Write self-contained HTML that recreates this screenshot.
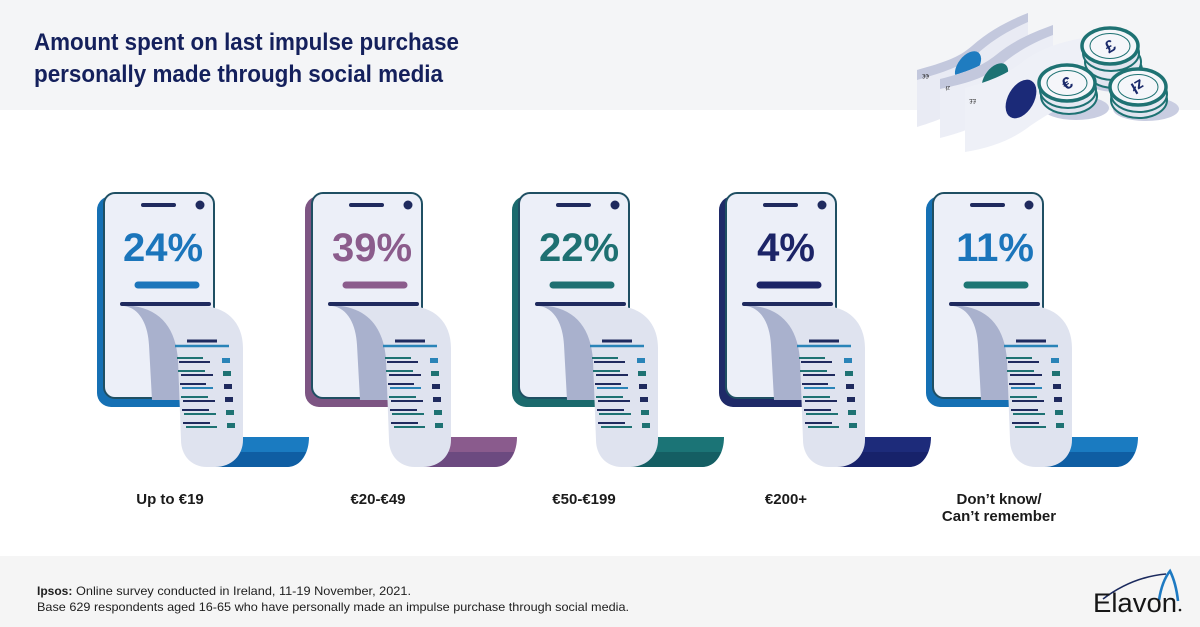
<!DOCTYPE html>
<html>
<head>
<meta charset="utf-8">
<style>
html,body{margin:0;padding:0;background:#fff;}
svg{display:block;}
</style>
</head>
<body>
<svg width="1200" height="627" viewBox="0 0 1200 627" xmlns="http://www.w3.org/2000/svg" font-family="'Liberation Sans', Arial, sans-serif">
  <!-- backgrounds -->
  <rect x="0" y="0" width="1200" height="627" fill="#ffffff"/>
  <rect x="0" y="0" width="1200" height="110" fill="#f4f5f7"/>
  <rect x="0" y="556" width="1200" height="71" fill="#f5f5f5"/>

  <!-- title -->
  <text x="34" y="50" font-size="24" font-weight="bold" fill="#14205c" textLength="425" lengthAdjust="spacingAndGlyphs">Amount spent on last impulse purchase</text>
  <text x="34" y="82" font-size="24" font-weight="bold" fill="#14205c" textLength="409" lengthAdjust="spacingAndGlyphs">personally made through social media</text>

  <!-- money illustration -->
  <g>
    <!-- shadows -->
    <ellipse cx="1117" cy="80" rx="32" ry="12" fill="#c9cde1"/>
    <ellipse cx="1076" cy="108" rx="33" ry="12" fill="#c9cde1"/>
    <ellipse cx="1146" cy="109" rx="33" ry="12" fill="#c9cde1"/>
    <!-- bill 1 -->
    <path d="M917,70 C945,62 958,58 972,46 C990,30 1010,20 1028,13 L1028,68 C1010,75 992,86 975,100 C960,112 940,120 917,127 Z" fill="#e9ebf4"/>
    <path d="M917,70 C945,62 958,58 972,46 C990,30 1010,20 1028,13 L1028,22 C1010,30 992,40 976,55 C962,66 945,72 917,80 Z" fill="#c3c8dd"/>
    <ellipse cx="968" cy="66" rx="10" ry="17" transform="rotate(38 968 66)" fill="#1f7cc0"/>
    <text x="921" y="78" font-size="6" fill="#333" transform="rotate(180 925 76)">€€</text>
    <!-- bill 2 -->
    <path d="M940,79 C968,72 982,66 996,55 C1014,40 1034,32 1053,25 L1053,82 C1034,88 1016,98 1000,111 C985,124 964,132 940,138 Z" fill="#eceef6"/>
    <path d="M940,79 C968,72 982,66 996,55 C1014,40 1034,32 1053,25 L1053,35 C1034,42 1016,52 1000,66 C986,78 964,84 940,89 Z" fill="#c3c8dd"/>
    <ellipse cx="995" cy="78" rx="10" ry="17" transform="rotate(38 995 78)" fill="#1c7273"/>
    <text x="944" y="90" font-size="6" fill="#333" transform="rotate(180 947 88)">zł</text>
    <!-- bill 3 -->
    <path d="M965,88 C995,80 1010,72 1025,60 C1045,46 1068,40 1090,37 L1090,98 C1070,102 1050,112 1030,126 C1012,140 990,148 965,152 Z" fill="#eef0f7"/>
    <ellipse cx="1021" cy="99" rx="13" ry="21" transform="rotate(30 1021 99)" fill="#1b2a78"/>
    <text x="970" y="103" font-size="6" fill="#333" transform="rotate(180 973 101)">££</text>

    <!-- pound stack -->
    <ellipse cx="1114" cy="70" rx="28" ry="18" fill="#e1e4ef" stroke="#1e7273" stroke-width="2"/>
    <ellipse cx="1113" cy="62" rx="28" ry="18" fill="#e6e9f2" stroke="#1e7273" stroke-width="2"/>
    <ellipse cx="1111" cy="53" rx="28" ry="18" fill="#e1e4ef" stroke="#1e7273" stroke-width="2"/>
    <ellipse cx="1110" cy="46" rx="28" ry="18" fill="#f5f6fa" stroke="#1e7273" stroke-width="3.5"/>
    <ellipse cx="1110" cy="46" rx="20" ry="12.5" fill="none" stroke="#1e7273" stroke-width="1"/>
    <text x="1110" y="52" font-size="17" font-weight="bold" fill="#1b2a6b" text-anchor="middle" transform="rotate(-30 1110 46)">£</text>

    <!-- euro stack -->
    <ellipse cx="1069" cy="96" rx="28" ry="18" fill="#e1e4ef" stroke="#1e7273" stroke-width="2"/>
    <ellipse cx="1068" cy="90" rx="28" ry="18" fill="#e6e9f2" stroke="#1e7273" stroke-width="2"/>
    <ellipse cx="1067" cy="83" rx="28" ry="18" fill="#f5f6fa" stroke="#1e7273" stroke-width="3.5"/>
    <ellipse cx="1067" cy="83" rx="20" ry="12.5" fill="none" stroke="#1e7273" stroke-width="1"/>
    <text x="1067" y="89" font-size="17" font-weight="bold" fill="#1b2a6b" text-anchor="middle" transform="rotate(-30 1067 83)">€</text>

    <!-- zloty stack -->
    <ellipse cx="1139" cy="100" rx="28" ry="18" fill="#e1e4ef" stroke="#1e7273" stroke-width="2"/>
    <ellipse cx="1139" cy="94" rx="28" ry="18" fill="#e6e9f2" stroke="#1e7273" stroke-width="2"/>
    <ellipse cx="1138" cy="87" rx="28" ry="18" fill="#f5f6fa" stroke="#1e7273" stroke-width="3.5"/>
    <ellipse cx="1138" cy="87" rx="20" ry="12.5" fill="none" stroke="#1e7273" stroke-width="1"/>
    <text x="1138" y="93" font-size="16" font-weight="bold" fill="#1b2a6b" text-anchor="middle" transform="rotate(150 1138 87)">zł</text>
  </g>

  <!-- PHONE 1 -->
  <g transform="translate(0,0)">
    <path d="M232,437 L309,437 C309,452 302,467 286,467 L212,467 Z" fill="#1a7bc1"/>
    <path d="M236,452 L306,452 C302,462 296,467 286,467 L214,467 Z" fill="#0f5ea3"/>
    <rect x="97" y="196" width="114" height="211" rx="14" fill="#1570b4"/>
    <rect x="104" y="193" width="110" height="205" rx="11" fill="#eceff8" stroke="#1f4f63" stroke-width="2"/>
    <line x1="143" y1="205" x2="174" y2="205" stroke="#1f2a5e" stroke-width="4" stroke-linecap="round"/>
    <circle cx="200" cy="205" r="4.5" fill="#1f2a5e"/>
    <text x="163" y="261" font-size="40" font-weight="bold" fill="#1b75bb" text-anchor="middle">24%</text>
    <line x1="138" y1="285" x2="196" y2="285" stroke="#1b75bb" stroke-width="7" stroke-linecap="round"/>
    <line x1="122" y1="304" x2="209" y2="304" stroke="#1f2a5e" stroke-width="4" stroke-linecap="round"/>
    <path d="M124,306 C140,308 148,325 149,345 L152,400 L185,400 L185,306 Z" fill="#a9b1cd"/>
    <path d="M133,306 L200,306 C226,306 243,322 243,348 L243,440 C243,455 232,467 215,467 L207,467 C191,467 181,455 181,440 L178,360 C176,330 162,310 133,306 Z" fill="#dfe3ef"/>
    <g stroke-linecap="butt">
      <line x1="187" y1="341" x2="217" y2="341" stroke="#1f2a5e" stroke-width="3"/>
      <line x1="175" y1="346" x2="229" y2="346" stroke="#2a84b8" stroke-width="2.5"/>
      <line x1="177" y1="358" x2="203" y2="358" stroke="#1e7273" stroke-width="2"/>
      <line x1="179" y1="362" x2="210" y2="362" stroke="#1f2a5e" stroke-width="2"/>
      <rect x="222" y="358" width="8" height="5" fill="#2a84b8"/>
      <line x1="178" y1="371" x2="205" y2="371" stroke="#1e7273" stroke-width="2"/>
      <line x1="181" y1="375" x2="213" y2="375" stroke="#1f2a5e" stroke-width="2"/>
      <rect x="223" y="371" width="8" height="5" fill="#1e7273"/>
      <line x1="180" y1="384" x2="206" y2="384" stroke="#1f2a5e" stroke-width="2"/>
      <line x1="182" y1="388" x2="213" y2="388" stroke="#2a84b8" stroke-width="2"/>
      <rect x="224" y="384" width="8" height="5" fill="#1f2a5e"/>
      <line x1="181" y1="397" x2="208" y2="397" stroke="#1e7273" stroke-width="2"/>
      <line x1="183" y1="401" x2="215" y2="401" stroke="#1f2a5e" stroke-width="2"/>
      <rect x="225" y="397" width="8" height="5" fill="#1f2a5e"/>
      <line x1="182" y1="410" x2="209" y2="410" stroke="#1f2a5e" stroke-width="2"/>
      <line x1="184" y1="414" x2="216" y2="414" stroke="#1e7273" stroke-width="2"/>
      <rect x="226" y="410" width="8" height="5" fill="#1e7273"/>
      <line x1="183" y1="423" x2="210" y2="423" stroke="#1f2a5e" stroke-width="2"/>
      <line x1="186" y1="427" x2="217" y2="427" stroke="#1e7273" stroke-width="2"/>
      <rect x="227" y="423" width="8" height="5" fill="#1e7273"/>
    </g>
  </g>

  <!-- PHONE 2 -->
  <g transform="translate(208,0)">
    <path d="M232,437 L309,437 C309,452 302,467 286,467 L212,467 Z" fill="#8a5b8d"/>
    <path d="M236,452 L306,452 C302,462 296,467 286,467 L214,467 Z" fill="#6c4a80"/>
    <rect x="97" y="196" width="114" height="211" rx="14" fill="#7d5583"/>
    <rect x="104" y="193" width="110" height="205" rx="11" fill="#eceff8" stroke="#1f4f63" stroke-width="2"/>
    <line x1="143" y1="205" x2="174" y2="205" stroke="#1f2a5e" stroke-width="4" stroke-linecap="round"/>
    <circle cx="200" cy="205" r="4.5" fill="#1f2a5e"/>
    <text x="164" y="261" font-size="40" font-weight="bold" fill="#8b5c8c" text-anchor="middle">39%</text>
    <line x1="138" y1="285" x2="196" y2="285" stroke="#8b5c8c" stroke-width="7" stroke-linecap="round"/>
    <line x1="122" y1="304" x2="209" y2="304" stroke="#1f2a5e" stroke-width="4" stroke-linecap="round"/>
    <path d="M124,306 C140,308 148,325 149,345 L152,400 L185,400 L185,306 Z" fill="#a9b1cd"/>
    <path d="M133,306 L200,306 C226,306 243,322 243,348 L243,440 C243,455 232,467 215,467 L207,467 C191,467 181,455 181,440 L178,360 C176,330 162,310 133,306 Z" fill="#dfe3ef"/>
    <g>
      <line x1="187" y1="341" x2="217" y2="341" stroke="#1f2a5e" stroke-width="3"/>
      <line x1="175" y1="346" x2="229" y2="346" stroke="#2a84b8" stroke-width="2.5"/>
      <line x1="177" y1="358" x2="203" y2="358" stroke="#1e7273" stroke-width="2"/>
      <line x1="179" y1="362" x2="210" y2="362" stroke="#1f2a5e" stroke-width="2"/>
      <rect x="222" y="358" width="8" height="5" fill="#2a84b8"/>
      <line x1="178" y1="371" x2="205" y2="371" stroke="#1e7273" stroke-width="2"/>
      <line x1="181" y1="375" x2="213" y2="375" stroke="#1f2a5e" stroke-width="2"/>
      <rect x="223" y="371" width="8" height="5" fill="#1e7273"/>
      <line x1="180" y1="384" x2="206" y2="384" stroke="#1f2a5e" stroke-width="2"/>
      <line x1="182" y1="388" x2="213" y2="388" stroke="#2a84b8" stroke-width="2"/>
      <rect x="224" y="384" width="8" height="5" fill="#1f2a5e"/>
      <line x1="181" y1="397" x2="208" y2="397" stroke="#1e7273" stroke-width="2"/>
      <line x1="183" y1="401" x2="215" y2="401" stroke="#1f2a5e" stroke-width="2"/>
      <rect x="225" y="397" width="8" height="5" fill="#1f2a5e"/>
      <line x1="182" y1="410" x2="209" y2="410" stroke="#1f2a5e" stroke-width="2"/>
      <line x1="184" y1="414" x2="216" y2="414" stroke="#1e7273" stroke-width="2"/>
      <rect x="226" y="410" width="8" height="5" fill="#1e7273"/>
      <line x1="183" y1="423" x2="210" y2="423" stroke="#1f2a5e" stroke-width="2"/>
      <line x1="186" y1="427" x2="217" y2="427" stroke="#1e7273" stroke-width="2"/>
      <rect x="227" y="423" width="8" height="5" fill="#1e7273"/>
    </g>
  </g>

  <!-- PHONE 3 -->
  <g transform="translate(415,0)">
    <path d="M232,437 L309,437 C309,452 302,467 286,467 L212,467 Z" fill="#1b7476"/>
    <path d="M236,452 L306,452 C302,462 296,467 286,467 L214,467 Z" fill="#145e63"/>
    <rect x="97" y="196" width="114" height="211" rx="14" fill="#1b6a6d"/>
    <rect x="104" y="193" width="110" height="205" rx="11" fill="#eceff8" stroke="#1f4f63" stroke-width="2"/>
    <line x1="143" y1="205" x2="174" y2="205" stroke="#1f2a5e" stroke-width="4" stroke-linecap="round"/>
    <circle cx="200" cy="205" r="4.5" fill="#1f2a5e"/>
    <text x="164" y="261" font-size="40" font-weight="bold" fill="#1e7072" text-anchor="middle">22%</text>
    <line x1="138" y1="285" x2="196" y2="285" stroke="#1e7072" stroke-width="7" stroke-linecap="round"/>
    <line x1="122" y1="304" x2="209" y2="304" stroke="#1f2a5e" stroke-width="4" stroke-linecap="round"/>
    <path d="M124,306 C140,308 148,325 149,345 L152,400 L185,400 L185,306 Z" fill="#a9b1cd"/>
    <path d="M133,306 L200,306 C226,306 243,322 243,348 L243,440 C243,455 232,467 215,467 L207,467 C191,467 181,455 181,440 L178,360 C176,330 162,310 133,306 Z" fill="#dfe3ef"/>
    <g>
      <line x1="187" y1="341" x2="217" y2="341" stroke="#1f2a5e" stroke-width="3"/>
      <line x1="175" y1="346" x2="229" y2="346" stroke="#2a84b8" stroke-width="2.5"/>
      <line x1="177" y1="358" x2="203" y2="358" stroke="#1e7273" stroke-width="2"/>
      <line x1="179" y1="362" x2="210" y2="362" stroke="#1f2a5e" stroke-width="2"/>
      <rect x="222" y="358" width="8" height="5" fill="#2a84b8"/>
      <line x1="178" y1="371" x2="205" y2="371" stroke="#1e7273" stroke-width="2"/>
      <line x1="181" y1="375" x2="213" y2="375" stroke="#1f2a5e" stroke-width="2"/>
      <rect x="223" y="371" width="8" height="5" fill="#1e7273"/>
      <line x1="180" y1="384" x2="206" y2="384" stroke="#1f2a5e" stroke-width="2"/>
      <line x1="182" y1="388" x2="213" y2="388" stroke="#2a84b8" stroke-width="2"/>
      <rect x="224" y="384" width="8" height="5" fill="#1f2a5e"/>
      <line x1="181" y1="397" x2="208" y2="397" stroke="#1e7273" stroke-width="2"/>
      <line x1="183" y1="401" x2="215" y2="401" stroke="#1f2a5e" stroke-width="2"/>
      <rect x="225" y="397" width="8" height="5" fill="#1f2a5e"/>
      <line x1="182" y1="410" x2="209" y2="410" stroke="#1f2a5e" stroke-width="2"/>
      <line x1="184" y1="414" x2="216" y2="414" stroke="#1e7273" stroke-width="2"/>
      <rect x="226" y="410" width="8" height="5" fill="#1e7273"/>
      <line x1="183" y1="423" x2="210" y2="423" stroke="#1f2a5e" stroke-width="2"/>
      <line x1="186" y1="427" x2="217" y2="427" stroke="#1e7273" stroke-width="2"/>
      <rect x="227" y="423" width="8" height="5" fill="#1e7273"/>
    </g>
  </g>

  <!-- PHONE 4 -->
  <g transform="translate(622,0)">
    <path d="M232,437 L309,437 C309,452 302,467 286,467 L212,467 Z" fill="#1d2b7a"/>
    <path d="M236,452 L306,452 C302,462 296,467 286,467 L214,467 Z" fill="#17226a"/>
    <rect x="97" y="196" width="114" height="211" rx="14" fill="#1f2a68"/>
    <rect x="104" y="193" width="110" height="205" rx="11" fill="#eceff8" stroke="#1f4f63" stroke-width="2"/>
    <line x1="143" y1="205" x2="174" y2="205" stroke="#1f2a5e" stroke-width="4" stroke-linecap="round"/>
    <circle cx="200" cy="205" r="4.5" fill="#1f2a5e"/>
    <text x="164" y="261" font-size="40" font-weight="bold" fill="#1c2467" text-anchor="middle">4%</text>
    <line x1="138" y1="285" x2="196" y2="285" stroke="#1c2467" stroke-width="7" stroke-linecap="round"/>
    <line x1="122" y1="304" x2="209" y2="304" stroke="#1f2a5e" stroke-width="4" stroke-linecap="round"/>
    <path d="M124,306 C140,308 148,325 149,345 L152,400 L185,400 L185,306 Z" fill="#a9b1cd"/>
    <path d="M133,306 L200,306 C226,306 243,322 243,348 L243,440 C243,455 232,467 215,467 L207,467 C191,467 181,455 181,440 L178,360 C176,330 162,310 133,306 Z" fill="#dfe3ef"/>
    <g>
      <line x1="187" y1="341" x2="217" y2="341" stroke="#1f2a5e" stroke-width="3"/>
      <line x1="175" y1="346" x2="229" y2="346" stroke="#2a84b8" stroke-width="2.5"/>
      <line x1="177" y1="358" x2="203" y2="358" stroke="#1e7273" stroke-width="2"/>
      <line x1="179" y1="362" x2="210" y2="362" stroke="#1f2a5e" stroke-width="2"/>
      <rect x="222" y="358" width="8" height="5" fill="#2a84b8"/>
      <line x1="178" y1="371" x2="205" y2="371" stroke="#1e7273" stroke-width="2"/>
      <line x1="181" y1="375" x2="213" y2="375" stroke="#1f2a5e" stroke-width="2"/>
      <rect x="223" y="371" width="8" height="5" fill="#1e7273"/>
      <line x1="180" y1="384" x2="206" y2="384" stroke="#1f2a5e" stroke-width="2"/>
      <line x1="182" y1="388" x2="213" y2="388" stroke="#2a84b8" stroke-width="2"/>
      <rect x="224" y="384" width="8" height="5" fill="#1f2a5e"/>
      <line x1="181" y1="397" x2="208" y2="397" stroke="#1e7273" stroke-width="2"/>
      <line x1="183" y1="401" x2="215" y2="401" stroke="#1f2a5e" stroke-width="2"/>
      <rect x="225" y="397" width="8" height="5" fill="#1f2a5e"/>
      <line x1="182" y1="410" x2="209" y2="410" stroke="#1f2a5e" stroke-width="2"/>
      <line x1="184" y1="414" x2="216" y2="414" stroke="#1e7273" stroke-width="2"/>
      <rect x="226" y="410" width="8" height="5" fill="#1e7273"/>
      <line x1="183" y1="423" x2="210" y2="423" stroke="#1f2a5e" stroke-width="2"/>
      <line x1="186" y1="427" x2="217" y2="427" stroke="#1e7273" stroke-width="2"/>
      <rect x="227" y="423" width="8" height="5" fill="#1e7273"/>
    </g>
  </g>

  <!-- PHONE 5 -->
  <g transform="translate(829,0)">
    <path d="M232,437 L309,437 C309,452 302,467 286,467 L212,467 Z" fill="#1a7bc1"/>
    <path d="M236,452 L306,452 C302,462 296,467 286,467 L214,467 Z" fill="#0f5ea3"/>
    <rect x="97" y="196" width="114" height="211" rx="14" fill="#1570b4"/>
    <rect x="104" y="193" width="110" height="205" rx="11" fill="#eceff8" stroke="#1f4f63" stroke-width="2"/>
    <line x1="143" y1="205" x2="174" y2="205" stroke="#1f2a5e" stroke-width="4" stroke-linecap="round"/>
    <circle cx="200" cy="205" r="4.5" fill="#1f2a5e"/>
    <text x="166" y="261" font-size="40" font-weight="bold" fill="#1b75bb" text-anchor="middle">11%</text>
    <line x1="138" y1="285" x2="196" y2="285" stroke="#1d7674" stroke-width="7" stroke-linecap="round"/>
    <line x1="122" y1="304" x2="209" y2="304" stroke="#1f2a5e" stroke-width="4" stroke-linecap="round"/>
    <path d="M124,306 C140,308 148,325 149,345 L152,400 L185,400 L185,306 Z" fill="#a9b1cd"/>
    <path d="M133,306 L200,306 C226,306 243,322 243,348 L243,440 C243,455 232,467 215,467 L207,467 C191,467 181,455 181,440 L178,360 C176,330 162,310 133,306 Z" fill="#dfe3ef"/>
    <g>
      <line x1="187" y1="341" x2="217" y2="341" stroke="#1f2a5e" stroke-width="3"/>
      <line x1="175" y1="346" x2="229" y2="346" stroke="#2a84b8" stroke-width="2.5"/>
      <line x1="177" y1="358" x2="203" y2="358" stroke="#1e7273" stroke-width="2"/>
      <line x1="179" y1="362" x2="210" y2="362" stroke="#1f2a5e" stroke-width="2"/>
      <rect x="222" y="358" width="8" height="5" fill="#2a84b8"/>
      <line x1="178" y1="371" x2="205" y2="371" stroke="#1e7273" stroke-width="2"/>
      <line x1="181" y1="375" x2="213" y2="375" stroke="#1f2a5e" stroke-width="2"/>
      <rect x="223" y="371" width="8" height="5" fill="#1e7273"/>
      <line x1="180" y1="384" x2="206" y2="384" stroke="#1f2a5e" stroke-width="2"/>
      <line x1="182" y1="388" x2="213" y2="388" stroke="#2a84b8" stroke-width="2"/>
      <rect x="224" y="384" width="8" height="5" fill="#1f2a5e"/>
      <line x1="181" y1="397" x2="208" y2="397" stroke="#1e7273" stroke-width="2"/>
      <line x1="183" y1="401" x2="215" y2="401" stroke="#1f2a5e" stroke-width="2"/>
      <rect x="225" y="397" width="8" height="5" fill="#1f2a5e"/>
      <line x1="182" y1="410" x2="209" y2="410" stroke="#1f2a5e" stroke-width="2"/>
      <line x1="184" y1="414" x2="216" y2="414" stroke="#1e7273" stroke-width="2"/>
      <rect x="226" y="410" width="8" height="5" fill="#1e7273"/>
      <line x1="183" y1="423" x2="210" y2="423" stroke="#1f2a5e" stroke-width="2"/>
      <line x1="186" y1="427" x2="217" y2="427" stroke="#1e7273" stroke-width="2"/>
      <rect x="227" y="423" width="8" height="5" fill="#1e7273"/>
    </g>
  </g>

  <!-- category labels -->
  <g font-size="15" font-weight="bold" fill="#1b1b1b" text-anchor="middle">
    <text x="170" y="504">Up to €19</text>
    <text x="378" y="504">€20-€49</text>
    <text x="584" y="504">€50-€199</text>
    <text x="786" y="504">€200+</text>
    <text x="999" y="504">Don’t know/</text>
    <text x="999" y="521">Can’t remember</text>
  </g>

  <!-- footer -->
  <text x="37" y="595" font-size="12" font-weight="bold" fill="#1e1e1e">Ipsos:</text>
  <text x="76" y="595" font-size="12" fill="#1e1e1e" textLength="335" lengthAdjust="spacingAndGlyphs">Online survey conducted in Ireland, 11-19 November, 2021.</text>
  <text x="37" y="611" font-size="12" fill="#1e1e1e" textLength="592" lengthAdjust="spacingAndGlyphs">Base 629 respondents aged 16-65 who have personally made an impulse purchase through social media.</text>

  <!-- Elavon logo -->
  <path d="M1103,599 Q1132,577 1166,574" fill="none" stroke="#1b2a5e" stroke-width="1.6"/>
  <path d="M1159,600 Q1162,581 1170,571 Q1176,583 1178,601" fill="none" stroke="#1e7ac2" stroke-width="2.6"/>
  <text x="1093" y="612" font-size="27" fill="#161616" textLength="84" lengthAdjust="spacingAndGlyphs">Elavon</text>
  <circle cx="1180" cy="610" r="1.3" fill="#161616"/>
</svg>
</body>
</html>
